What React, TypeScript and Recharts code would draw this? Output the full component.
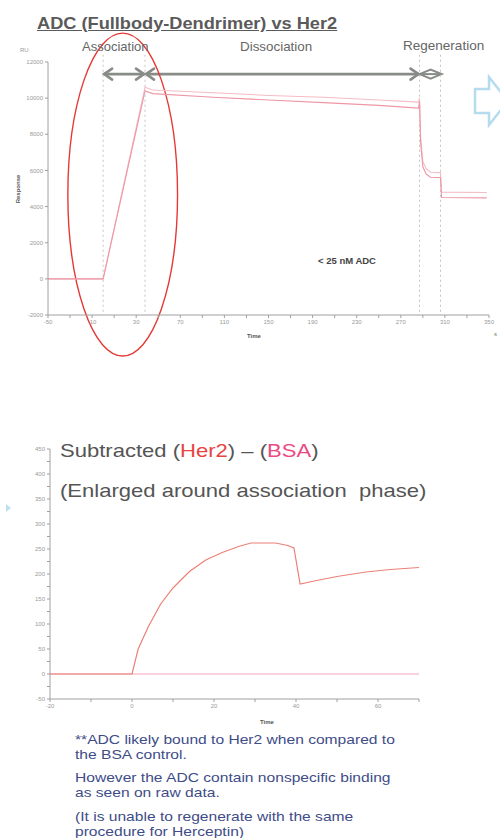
import React from 'react';
import { LineChart, Line, XAxis, YAxis, ReferenceLine, ReferenceArea } from 'recharts';

// ---------- Top chart (raw sensorgram) ----------
const TOP_TIME = [-50, 0, 38, 45, 100, 150, 200, 250, 286, 287, 288, 290, 293, 297, 306, 307, 348];
const TOP_UPPER = [0, 0, 10600, 10450, 10300, 10150, 10050, 9900, 9780, 10000, 7800, 6500, 6100, 5900, 5880, 4800, 4780];
const TOP_LOWER = [0, 0, 10400, 10250, 10050, 9900, 9750, 9600, 9450, 9800, 7500, 6200, 5800, 5620, 5600, 4500, 4480];
const TOP_X_TICKS = [-50, -30, -10, 10, 30, 50, 70, 90, 110, 130, 150, 170, 190, 210, 230, 250, 270, 290, 310, 330, 350];
const TOP_Y_TICKS = [-2000, 0, 2000, 4000, 6000, 8000, 10000, 12000];
const PHASE_LINES = [0, 38, 287, 306];

// ---------- Bottom chart (subtracted) ----------
const SUB_TIME = [-20, 0, 1.5, 4, 7, 10, 14, 18, 22, 26, 29, 35, 38, 39.5, 41, 45, 50, 57, 63, 70];
const SUB_HER2 = [0, 0, 50, 95, 140, 172, 205, 228, 243, 255, 262, 262, 257, 252, 180, 187, 195, 204, 209, 213];
const SUB_BSA = [0, 0, 0, 0, 0, 0, 0, 0, 0, 0, 0, 0, 0, 0, 0, 0, 0, 0, 0, 0];
const SUB_X_TICKS = [-20, -10, 0, 10, 20, 30, 40, 50, 60, 70];
const SUB_Y_TICKS = [-50, -25, 0, 25, 50, 75, 100, 125, 150, 175, 200, 225, 250, 275, 300, 325, 350, 375, 400, 425, 450];

const topData = TOP_TIME.map((t, i) => ({ t, upper: TOP_UPPER[i], lower: TOP_LOWER[i] }));
const subData = SUB_TIME.map((t, i) => ({ t, her2: SUB_HER2[i], bsa: SUB_BSA[i] }));

const FONT = '"Liberation Sans", Arial, sans-serif';
const AXIS = '#a0a0a0';
const TICKTXT = '#9a9a9a';

const makeTick = (isLabel: (v: number) => boolean, isY: boolean) => (props: any) => {
  const { x, y, payload, textAnchor } = props;
  if (!isLabel(payload.value)) return <g />;
  return (
    <text x={x} y={y} dy={isY ? '0.35em' : '0.71em'} textAnchor={textAnchor} fontSize={6} fill={TICKTXT} fontFamily={FONT}>
      {payload.value}
    </text>
  );
};

const EllipseShape = (props: any) => {
  const { x, y, width, height } = props;
  return <ellipse cx={x + width / 2} cy={y + height / 2} rx={width / 2} ry={height / 2} fill="none" stroke="#e53935" strokeWidth={1.4} />;
};

const DoubleArrow = (props: any) => {
  const { x, y, width, height } = props;
  const cy = y + height / 2;
  const h = 5.5;
  const c = '#878c87';
  return (
    <g stroke={c} strokeWidth={2.6} fill="none" strokeLinecap="round">
      <line x1={x + 1} y1={cy} x2={x + width - 1} y2={cy} />
      <polyline points={`${x + 9},${cy - h} ${x + 1},${cy} ${x + 9},${cy + h}`} />
      <polyline points={`${x + width - 9},${cy - h} ${x + width - 1},${cy} ${x + width - 9},${cy + h}`} />
    </g>
  );
};

const DiamondShape = (props: any) => {
  const { x, y, width, height } = props;
  const cy = y + height / 2;
  const h = 4.5;
  const c = '#878c87';
  return (
    <g stroke={c} strokeWidth={2} fill="none">
      <polygon points={`${x},${cy} ${x + width / 2},${cy - h} ${x + width},${cy} ${x + width / 2},${cy + h}`} />
      <line x1={x} y1={cy} x2={x + width} y2={cy} />
    </g>
  );
};

const txt = (s: React.CSSProperties): React.CSSProperties => ({ position: 'absolute', whiteSpace: 'nowrap', fontFamily: FONT, lineHeight: 1, transformOrigin: 'left top', ...s });

export default function App() {
  return (
    <div style={{ position: 'absolute', left: 0, top: 0, width: 500, height: 838, background: '#fff', overflow: 'hidden', fontFamily: FONT }}>
      {/* Top chart */}
      <div style={{ position: 'absolute', left: 0, top: 0 }}>
        <LineChart width={500} height={370} data={topData} margin={{ top: 62, right: 11, bottom: 25, left: 0 }}>
          <XAxis
            type="number"
            dataKey="t"
            domain={[-50, 350]}
            ticks={TOP_X_TICKS}
            interval={0}
            height={30}
            stroke={AXIS}
            tickSize={3}
            tick={makeTick((v) => (v + 50) % 40 === 0, false)}
            allowDataOverflow
          />
          <YAxis
            type="number"
            domain={[-2000, 12000]}
            ticks={TOP_Y_TICKS}
            interval={0}
            width={48}
            stroke={AXIS}
            tickSize={3}
            tick={makeTick(() => true, true)}
            allowDataOverflow
          />
          {PHASE_LINES.map((p) => (
            <ReferenceLine
              key={p}
              segment={[{ x: p, y: 12400 }, { x: p, y: -2000 }]}
              stroke="#c4c4c4"
              strokeDasharray="2 3"
              ifOverflow="visible"
            />
          ))}
          <Line type="linear" dataKey="upper" stroke="#f5bcc5" strokeWidth={1.1} dot={false} isAnimationActive={false} />
          <Line type="linear" dataKey="lower" stroke="#ee97a5" strokeWidth={1.1} dot={false} isAnimationActive={false} />
          <ReferenceArea x1={0} x2={38} y1={11100} y2={11560} ifOverflow="visible" shape={<DoubleArrow />} fill="none" stroke="none" />
          <ReferenceArea x1={38} x2={287} y1={11100} y2={11560} ifOverflow="visible" shape={<DoubleArrow />} fill="none" stroke="none" />
          <ReferenceArea x1={287} x2={307} y1={11100} y2={11560} ifOverflow="visible" shape={<DiamondShape />} fill="none" stroke="none" />
          <ReferenceArea x1={-32} x2={67.5} y1={-4270} y2={13600} ifOverflow="visible" shape={<EllipseShape />} fill="none" stroke="none" />
        </LineChart>
      </div>

      {/* Bottom chart */}
      <div style={{ position: 'absolute', left: 0, top: 420 }}>
        <LineChart width={500} height={320} data={subData} margin={{ top: 29, right: 81, bottom: 11, left: 0 }}>
          <XAxis
            type="number"
            dataKey="t"
            domain={[-20, 70]}
            ticks={SUB_X_TICKS}
            interval={0}
            height={30}
            stroke={AXIS}
            tickSize={3}
            tick={makeTick((v) => v % 20 === 0, false)}
            allowDataOverflow
          />
          <YAxis
            type="number"
            domain={[-50, 450]}
            ticks={SUB_Y_TICKS}
            interval={0}
            width={50}
            stroke={AXIS}
            tickSize={3}
            tick={makeTick((v) => v % 50 === 0, true)}
            allowDataOverflow
          />
          <Line type="linear" dataKey="bsa" stroke="#f3a6bb" strokeWidth={1.2} dot={false} isAnimationActive={false} />
          <Line type="linear" dataKey="her2" stroke="#ec8177" strokeWidth={1.2} dot={false} isAnimationActive={false} />
        </LineChart>
      </div>

      {/* Decorative arrows */}
      <svg width={500} height={838} style={{ position: 'absolute', left: 0, top: 0, pointerEvents: 'none' }}>
        <polygon points="475,89 489,89 489,77 508,101 489,125 489,113 475,113" fill="#fff" stroke="#b4dcee" strokeWidth={2.5} />
        <polygon points="6,504 11,508 6,512" fill="#bfe0f0" />
      </svg>

      {/* Text overlays */}
      <div style={txt({ left: 37, top: 15, fontSize: 17, fontWeight: 700, color: '#5a5a5a', textDecoration: 'underline', transform: 'scaleX(1.07)' })}>
        ADC (Fullbody-Dendrimer) vs Her2
      </div>
      <div style={txt({ left: 82, top: 40, fontSize: 13, color: '#666' })}>Association</div>
      <div style={txt({ left: 240, top: 40, fontSize: 13, color: '#666', transform: 'scaleX(1.03)' })}>Dissociation</div>
      <div style={txt({ left: 403, top: 39, fontSize: 13, color: '#666', transform: 'scaleX(1.04)' })}>Regeneration</div>
      <div style={txt({ left: 20, top: 47, fontSize: 6, color: '#999' })}>RU</div>
      <div style={txt({ left: 18, top: 189, fontSize: 6, fontWeight: 700, color: '#555', transformOrigin: 'center', transform: 'translate(-50%, -50%) rotate(-90deg)' })}>
        Response
      </div>
      <div style={txt({ left: 318, top: 256, fontSize: 9.5, fontWeight: 700, color: '#444' })}>&lt; 25 nM ADC</div>
      <div style={txt({ left: 247, top: 333, fontSize: 6, fontWeight: 700, color: '#555' })}>Time</div>
      <div style={txt({ left: 494, top: 331, fontSize: 6, color: '#777' })}>s</div>

      <div style={txt({ left: 60, top: 441, fontSize: 19, color: '#555', transform: 'scaleX(1.16)' })}>
        Subtracted (<span style={{ color: '#e8433f' }}>Her2</span>) – (<span style={{ color: '#ea4a82' }}>BSA</span>)
      </div>
      <div style={txt({ left: 60, top: 481, fontSize: 19, color: '#555', transform: 'scaleX(1.16)' })}>(Enlarged around association&nbsp; phase)</div>
      <div style={txt({ left: 260, top: 719, fontSize: 6, fontWeight: 700, color: '#555' })}>Time</div>

      <div style={txt({ left: 75, top: 733, fontSize: 13.5, color: '#404c88', lineHeight: '14.5px', transform: 'scaleX(1.155)' })}>
        **ADC likely bound to Her2 when compared to
        <br />
        the BSA control.
      </div>
      <div style={txt({ left: 75, top: 771, fontSize: 13.5, color: '#404c88', lineHeight: '14.5px', transform: 'scaleX(1.155)' })}>
        However the ADC contain nonspecific binding
        <br />
        as seen on raw data.
      </div>
      <div style={txt({ left: 75, top: 810, fontSize: 13.5, color: '#404c88', lineHeight: '14.5px', transform: 'scaleX(1.155)' })}>
        (It is unable to regenerate with the same
        <br />
        procedure for Herceptin)
      </div>
    </div>
  );
}
